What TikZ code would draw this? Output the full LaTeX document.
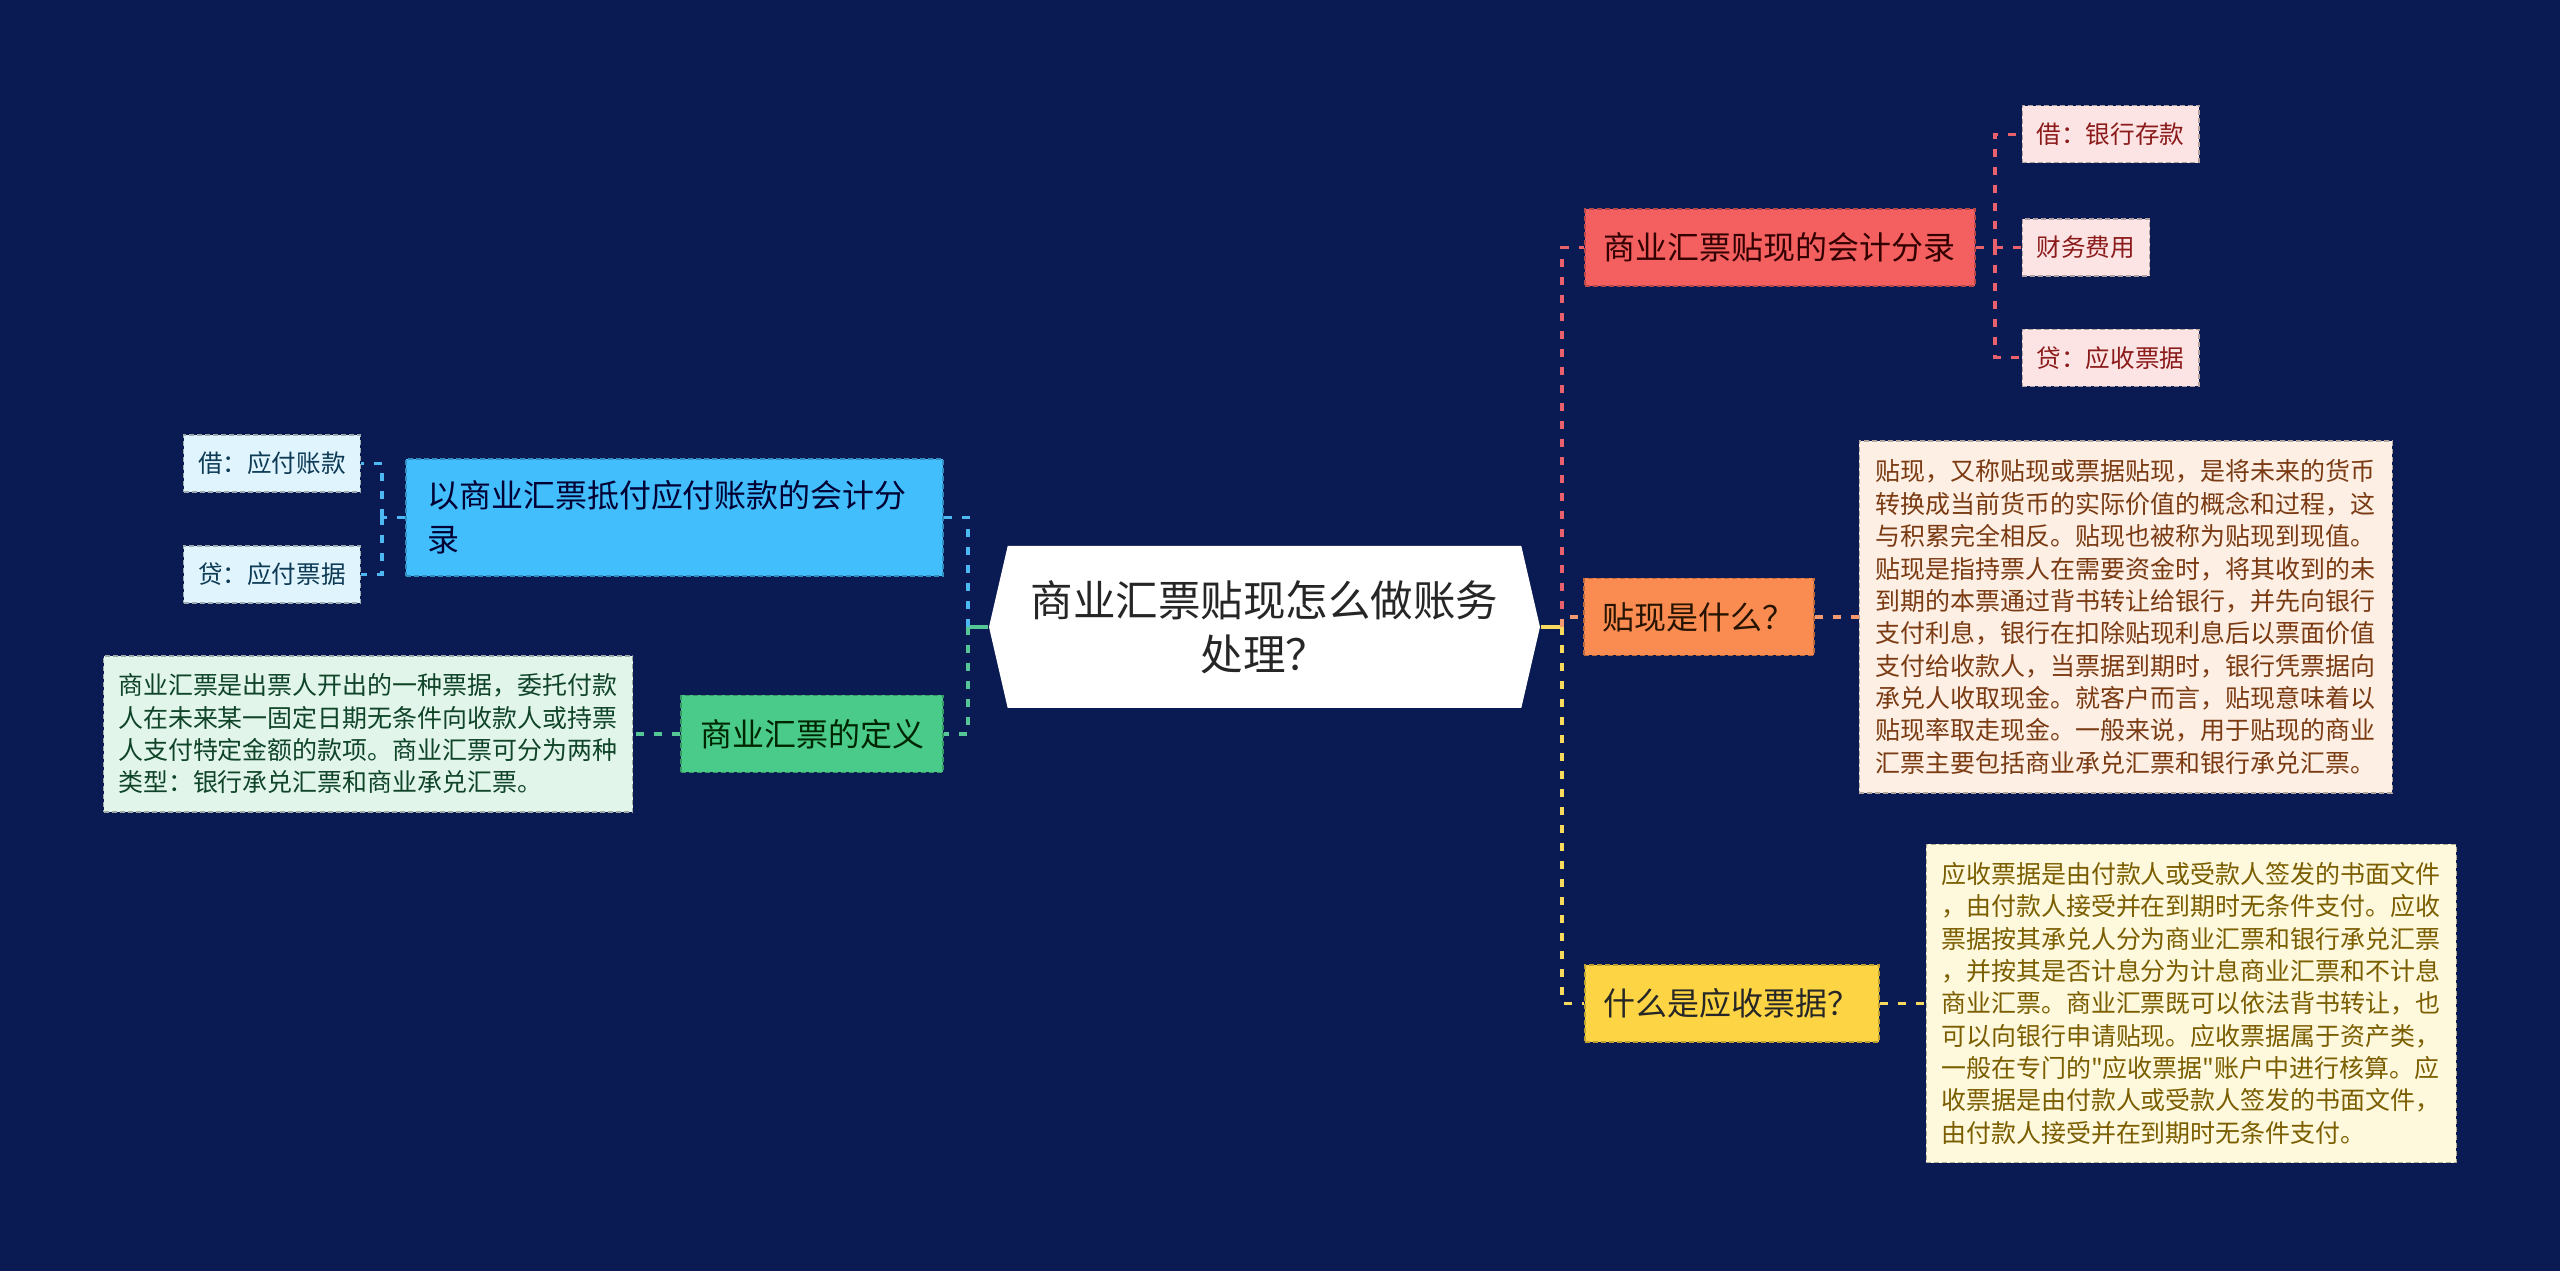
\documentclass[tikz,border=0pt]{standalone}
\usepackage{fontspec}
\usepackage{tikz}
\usetikzlibrary{positioning,shapes.symbols}
\newfontfamily\cjk{Noto Sans CJK SC}
\definecolor{bgnavy}{HTML}{0A1B53}
\definecolor{rfill}{HTML}{F46060}
\definecolor{ofill}{HTML}{FA8C52}
\definecolor{yfill}{HTML}{FCD444}
\definecolor{bfill}{HTML}{42BEFC}
\definecolor{gfill}{HTML}{4ACB8A}
\definecolor{rleaffill}{HTML}{FDE4E4}
\definecolor{oleaffill}{HTML}{FDEFE4}
\definecolor{yleaffill}{HTML}{FEF8DC}
\definecolor{bleaffill}{HTML}{E0F4FD}
\definecolor{gleaffill}{HTML}{E1F5EA}
\definecolor{rtext}{HTML}{8B1A1A}
\definecolor{otext}{HTML}{7A3A12}
\definecolor{ytext}{HTML}{7B5E00}
\definecolor{btext}{HTML}{0D3A55}
\definecolor{gtext}{HTML}{0F4428}
\definecolor{redln}{HTML}{E8616B}
\definecolor{orangeln}{HTML}{F49A6E}
\definecolor{yellowln}{HTML}{F7DA5E}
\definecolor{blueln}{HTML}{4DB8F2}
\definecolor{greenln}{HTML}{55C796}

\begin{document}
\begin{tikzpicture}[
  rootbox/.style={shape=signal, signal to=west and east, signal pointer angle=154,
                  fill=white, minimum width=5.51cm, minimum height=1.62cm, inner sep=0pt,
                  align=center, text=black!85, font=\cjk\fontsize{12.1pt}{15.3pt}\selectfont},
  mbox/.style={rectangle, line width=0.5pt, dash pattern=on 0.05cm off 0.03cm,
               inner xsep=0.19cm, inner ysep=0cm, minimum height=0.77cm,
               font=\cjk\fontsize{9.1pt}{12.5pt}\selectfont},
  rbox/.style={mbox, fill=rfill, draw=rfill!75!black, text=black!80!red},
  obox/.style={mbox, fill=ofill, draw=ofill!75!black, text=black!85!orange},
  ybox/.style={mbox, fill=yfill, draw=yfill!75!black, text=black!85},
  bbox/.style={mbox, fill=bfill, draw=bfill!75!black, text=black!80!blue,
               text width=4.95cm, align=left, inner xsep=0.21cm, minimum height=1.17cm},
  gbox/.style={mbox, fill=gfill, draw=gfill!75!black, text=black!85!green},
  leaf/.style={rectangle, line width=0.4pt, dash pattern=on 0.05cm off 0.03cm,
               inner xsep=0.145cm, inner ysep=0cm, minimum height=0.57cm,
               font=\cjk\fontsize{7pt}{9pt}\selectfont},
  txtleaf/.style={leaf, text width=5.0cm, align=left, inner ysep=0.15cm,
                  font=\cjk\fontsize{7.1pt}{9.2pt}\selectfont},
  rleaf/.style={leaf, fill=rleaffill, draw=rleaffill!70!black, text=rtext},
  bleaf/.style={leaf, fill=bleaffill, draw=bleaffill!70!black, text=btext},
  oleaf/.style={txtleaf, fill=oleaffill, draw=oleaffill!70!black, text=otext,
                inner xsep=0.165cm, minimum height=3.52cm},
  yleaf/.style={txtleaf, fill=yleaffill, draw=yleaffill!70!black, text=ytext,
                inner xsep=0.15cm, minimum height=3.18cm},
  gleaf/.style={txtleaf, fill=gleaffill, draw=gleaffill!70!black, text=gtext,
                minimum height=1.56cm},
  ln/.style={line width=0.9pt, dash pattern=on 0.08cm off 0.1cm},
  trunk/.style={line width=0.9pt}
]
  % fondo
  \fill[bgnavy] (0,0) rectangle (25.6,-12.71);
  \useasboundingbox (0,0) rectangle (25.6,-12.71);

  % centro
  \node[rootbox] (root) at (12.645,-6.27) {商业汇票贴现怎么做账务\\处理？};

  % ramas derecha
  \node[rbox, anchor=west] (entry) at (15.84,-2.475) {商业汇票贴现的会计分录};
  \node[obox, anchor=west] (disc)  at (15.83,-6.17)  {贴现是什么？};
  \node[ybox, anchor=west] (recv)  at (15.84,-10.035) {什么是应收票据？};

  % hojas de la cuenta
  \node[rleaf, right=0.46cm of entry] (fee) {财务费用};
  \node[rleaf, above=0.55cm of fee.north west, anchor=south west] (debit) {借：银行存款};
  \node[rleaf, below=0.52cm of fee.south west, anchor=north west] (credit) {贷：应收票据};

  \node[oleaf, right=0.44cm of disc] (disctxt)
    {贴现，又称贴现或票据贴现，是将未来的货币\\
     转换成当前货币的实际价值的概念和过程，这\\
     与积累完全相反。贴现也被称为贴现到现值。\\
     贴现是指持票人在需要资金时，将其收到的未\\
     到期的本票通过背书转让给银行，并先向银行\\
     支付利息，银行在扣除贴现利息后以票面价值\\
     支付给收款人，当票据到期时，银行凭票据向\\
     承兑人收取现金。就客户而言，贴现意味着以\\
     贴现率取走现金。一般来说，用于贴现的商业\\
     汇票主要包括商业承兑汇票和银行承兑汇票。};

  \node[yleaf, right=0.46cm of recv] (recvtxt)
    {应收票据是由付款人或受款人签发的书面文件\\
     ，由付款人接受并在到期时无条件支付。应收\\
     票据按其承兑人分为商业汇票和银行承兑汇票\\
     ，并按其是否计息分为计息商业汇票和不计息\\
     商业汇票。商业汇票既可以依法背书转让，也\\
     可以向银行申请贴现。应收票据属于资产类，\\
     一般在专门的"应收票据"账户中进行核算。应\\
     收票据是由付款人或受款人签发的书面文件，\\
     由付款人接受并在到期时无条件支付。};

  % ramas izquierda
  \node[bbox, anchor=east] (offset) at (9.44,-5.175) {以商业汇票抵付应付账款的会计分\\录};
  \node[gbox, anchor=east] (defn)   at (9.44,-7.34)  {商业汇票的定义};

  \node[bleaf, anchor=east] (odebit)  at (3.61,-4.635) {借：应付账款};
  \node[bleaf, anchor=east] (ocredit) at (3.61,-5.745) {贷：应付票据};

  \node[gleaf, left=0.47cm of defn] (defntxt)
    {商业汇票是出票人开出的一种票据，委托付款\\
     人在未来某一固定日期无条件向收款人或持票\\
     人支付特定金额的款项。商业汇票可分为两种\\
     类型：银行承兑汇票和商业承兑汇票。};

  % conexiones
  \coordinate (rj)  at (15.62,-6.27);
  \coordinate (lj)  at (9.68,-6.27);
  \coordinate (ej)  at (19.95,-2.475);
  \coordinate (oj)  at (3.82,-5.175);

  \draw[trunk, yellowln] (root.east) -- (rj);
  \draw[ln, redln]    (rj) |- (entry.west);
  \draw[ln, orangeln] (rj) |- (disc.west);
  \draw[ln, yellowln] (rj) |- (recv.west);

  \draw[ln, redln] (entry.east) -- (ej);
  \draw[ln, redln] (ej) |- (debit.west);
  \draw[ln, redln] (ej) -- (fee.west);
  \draw[ln, redln] (ej) |- (credit.west);

  \draw[ln, orangeln] (disc.east) -- (disctxt.west);
  \draw[ln, yellowln] (recv.east) -- (recvtxt.west);

  \draw[trunk, greenln] (root.west) -- (lj);
  \draw[ln, blueln]  (lj) |- (offset.east);
  \draw[ln, greenln] (lj) |- (defn.east);

  \draw[ln, blueln] (offset.west) -- (oj);
  \draw[ln, blueln] (oj) |- (odebit.east);
  \draw[ln, blueln] (oj) |- (ocredit.east);

  \draw[ln, greenln] (defn.west) -- (defntxt.east);
\end{tikzpicture}
\end{document}
